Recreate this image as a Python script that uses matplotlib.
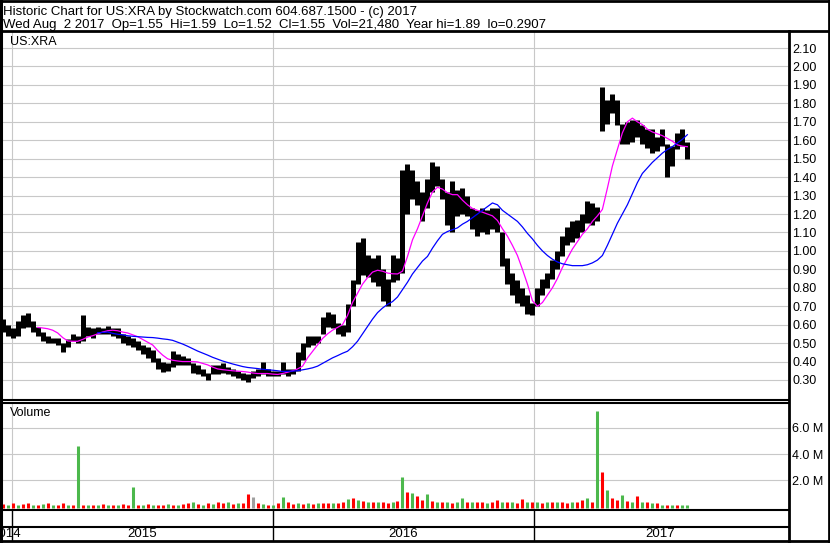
import matplotlib.pyplot as plt
from matplotlib.lines import Line2D
import numpy as np
import pandas as pd

plt.rcParams['font.family'] = ['Liberation Sans', 'DejaVu Sans']

W, H = 830, 543
nan = np.nan

# weekly bars
weeks = pd.date_range('2014-12-19', periods=138, freq='7D')

high = [0.63, 0.60, 0.58, 0.62, 0.65, 0.665, 0.62, 0.59, 0.56, 0.54,
        0.53, 0.53, 0.50, 0.52, 0.55, 0.54, 0.655, 0.59, 0.58, 0.59,
        0.58, 0.595, 0.58, 0.58, 0.55, 0.54, 0.53, 0.51, 0.49, 0.48,
        0.46, 0.42, 0.40, 0.39, 0.455, 0.44, 0.43, 0.42, 0.39, 0.38,
        0.36, 0.34, 0.38, 0.38, 0.39, 0.37, 0.36, 0.35, 0.34, 0.33,
        0.35, 0.36, 0.40, 0.36, 0.35, 0.35, 0.40, 0.36, 0.36, 0.45,
        0.50, 0.54, 0.54, 0.54, 0.64, 0.67, 0.66, 0.61, 0.60, 0.71,
        0.84, 1.05, 1.07, 0.98, 0.96, 0.98, 0.90, 0.85, 0.98, 0.96,
        1.44, 1.47, 1.44, 1.38, 1.32, 1.39, 1.48, 1.46, 1.39, 1.32,
        1.38, 1.33, 1.34, 1.30, 1.23, 1.22, 1.23, 1.22, 1.23, 1.23,
        1.10, 0.96, 0.88, 0.84, 0.80, 0.76, 0.72, 0.80, 0.85, 0.88,
        0.95, 1.00, 1.08, 1.13, 1.16, 1.17, 1.20, 1.27, 1.26, 1.24,
        1.89, 1.82, 1.85, 1.82, 1.69, 1.70, 1.71, 1.71, 1.68, 1.66,
        1.66, 1.62, 1.66, 1.58, 1.57, 1.64, 1.66, 1.59]

low = [0.56, 0.54, 0.53, 0.54, 0.58, 0.59, 0.56, 0.54, 0.51, 0.50,
       0.50, 0.49, 0.45, 0.48, 0.51, 0.50, 0.51, 0.54, 0.53, 0.55,
       0.55, 0.55, 0.54, 0.53, 0.50, 0.49, 0.48, 0.46, 0.44, 0.42,
       0.40, 0.36, 0.345, 0.35, 0.37, 0.38, 0.38, 0.38, 0.34, 0.33,
       0.32, 0.30, 0.33, 0.33, 0.34, 0.33, 0.32, 0.31, 0.30, 0.29,
       0.31, 0.32, 0.33, 0.32, 0.32, 0.32, 0.33, 0.32, 0.33, 0.35,
       0.41, 0.48, 0.49, 0.50, 0.55, 0.59, 0.58, 0.55, 0.54, 0.56,
       0.70, 0.82, 0.87, 0.86, 0.83, 0.81, 0.73, 0.70, 0.83, 0.84,
       0.88, 1.20, 1.28, 1.25, 1.16, 1.23, 1.32, 1.35, 1.28, 1.14,
       1.10, 1.19, 1.20, 1.19, 1.12, 1.08, 1.10, 1.09, 1.12, 1.10,
       0.92, 0.82, 0.76, 0.72, 0.70, 0.66, 0.65, 0.70, 0.76, 0.80,
       0.85, 0.90, 0.97, 1.03, 1.05, 1.07, 1.10, 1.15, 1.14, 1.16,
       1.65, 1.69, 1.75, 1.68, 1.58, 1.58, 1.59, 1.62, 1.58, 1.56,
       1.53, 1.54, 1.57, 1.40, 1.46, 1.55, 1.57, 1.50]

ma_fast = [nan] * 7 + [
    0.585, 0.582, 0.578,
    0.57, 0.555, 0.53, 0.512, 0.51, 0.51, 0.52, 0.533, 0.54, 0.55,
    0.56, 0.567, 0.57, 0.567, 0.56, 0.555, 0.545, 0.535, 0.52, 0.505,
    0.49, 0.46, 0.435, 0.415, 0.407, 0.403, 0.40, 0.40, 0.40, 0.398,
    0.39, 0.382, 0.37, 0.36, 0.356, 0.353, 0.35, 0.348, 0.346, 0.343,
    0.338, 0.335, 0.335, 0.335, 0.332, 0.33, 0.335, 0.342, 0.35, 0.36,
    0.375, 0.42, 0.455, 0.49, 0.525, 0.55, 0.57, 0.585, 0.60, 0.65,
    0.72, 0.77, 0.82, 0.855, 0.885, 0.895, 0.89, 0.88, 0.876, 0.875,
    0.89, 0.97, 1.06, 1.12, 1.19, 1.26, 1.32, 1.345, 1.335, 1.315,
    1.305, 1.305, 1.275, 1.25, 1.23, 1.22, 1.21, 1.20, 1.19, 1.165,
    1.12, 1.08, 1.03, 0.975, 0.90, 0.82, 0.73, 0.70, 0.72, 0.76,
    0.80, 0.85, 0.91, 0.96, 1.01, 1.05, 1.09, 1.12, 1.16, 1.19,
    1.225, 1.34, 1.46, 1.55, 1.64, 1.70, 1.72, 1.70, 1.685, 1.66,
    1.645, 1.635, 1.625, 1.61, 1.595, 1.575, 1.568, 1.565]

ma_slow = [nan] * 19 + [
    0.556,
    0.558, 0.56, 0.553, 0.548, 0.545, 0.54, 0.537, 0.535, 0.533, 0.531,
    0.53, 0.527, 0.523, 0.52, 0.515, 0.505, 0.495, 0.483, 0.47, 0.457,
    0.446, 0.435, 0.423, 0.413, 0.403, 0.395, 0.387, 0.38, 0.373, 0.368,
    0.365, 0.362, 0.358, 0.356, 0.353, 0.35, 0.346, 0.347, 0.348, 0.35,
    0.355, 0.36, 0.366, 0.375, 0.39, 0.405, 0.42, 0.432, 0.445, 0.456,
    0.48, 0.51, 0.55, 0.59, 0.63, 0.665, 0.69, 0.71, 0.725, 0.75,
    0.79, 0.83, 0.875, 0.91, 0.945, 0.97, 1.015, 1.055, 1.09, 1.105,
    1.115, 1.125, 1.145, 1.16, 1.18, 1.20, 1.22, 1.24, 1.26, 1.25,
    1.22, 1.20, 1.18, 1.16, 1.13, 1.095, 1.065, 1.03, 1.00, 0.975,
    0.955, 0.94, 0.93, 0.925, 0.92, 0.92, 0.92, 0.925, 0.935, 0.95,
    0.975, 1.03, 1.09, 1.15, 1.20, 1.25, 1.31, 1.37, 1.42, 1.45,
    1.48, 1.505, 1.53, 1.55, 1.565, 1.585, 1.605, 1.63]

# volume in millions, g = up, r = down, k = unchanged
volume = [0.15, 0.12, 0.2, 0.1, 0.15, 0.25, 0.12, 0.1, 0.15, 0.2,
          0.1, 0.12, 0.2, 0.08, 0.1, 4.6, 0.1, 0.12, 0.08, 0.1,
          0.15, 0.1, 0.12, 0.1, 0.15, 0.1, 1.5, 0.12, 0.1, 0.15,
          0.1, 0.12, 0.1, 0.15, 0.12, 0.1, 0.15, 0.2, 0.35, 0.15,
          0.12, 0.2, 0.15, 0.3, 0.2, 0.35, 0.15, 0.2, 0.25, 0.9,
          0.7, 0.2, 0.15, 0.1, 0.12, 0.2, 0.7, 0.3, 0.15, 0.2,
          0.15, 0.2, 0.15, 0.2, 0.25, 0.2, 0.25, 0.2, 0.3, 0.55,
          0.6, 0.45, 0.4, 0.3, 0.35, 0.3, 0.3, 0.25, 0.35, 0.4,
          2.2, 1.1, 1.0, 0.8, 0.5, 0.9, 0.4, 0.3, 0.35, 0.3,
          0.25, 0.3, 0.6, 0.3, 0.35, 0.3, 0.3, 0.25, 0.3, 0.5,
          0.3, 0.35, 0.3, 0.25, 0.55, 0.3, 0.35, 0.3, 0.25, 0.3,
          0.3, 0.3, 0.35, 0.25, 0.3, 0.35, 0.45, 0.6, 0.3, 7.3,
          2.6, 1.2, 0.6, 0.5, 0.85, 0.4, 0.3, 0.75, 0.3, 0.3,
          0.25, 0.2, 0.12, 0.08, 0.06, 0.06, 0.1, 0.06]
vol_dir = ("rgrgrrgrgr" "grrgrgrgrg" "rgrgrrgrgr" "grrgrgrrgr" "grgrrgrgrr"
           "krgrgrgrrg" "rgrgrrgrrg" "rgrgrgrrgr" "grgrrgrgrg" "rggrgrrgrr"
           "grgrrgrgrg" "rgrrgrrgrg" "rgrrgrgrgr" "grgrgrgg")

price_ticks = [0.3, 0.4, 0.5, 0.6, 0.7, 0.8, 0.9, 1.0, 1.1, 1.2,
               1.3, 1.4, 1.5, 1.6, 1.7, 1.8, 1.9, 2.0, 2.1]
vol_ticks = [2, 4, 6]
vol_tick_labels = ['2.0 M', '4.0 M', '6.0 M']
year_starts = pd.to_datetime(['2015-01-01', '2016-01-01', '2017-01-01'])
year_labels = ['2014', '2015', '2016', '2017']
year_label_dates = pd.to_datetime(['2014-12-24', '2015-07-02', '2016-07-02', '2017-06-27'])

title1 = 'Historic Chart for US:XRA by Stockwatch.com 604.687.1500 - (c) 2017'
title2 = ('Wed Aug  2 2017  Op=1.55  Hi=1.59  Lo=1.52  Cl=1.55  '
          'Vol=21,480  Year hi=1.89  lo=0.2907')

xmin, xmax = pd.Timestamp('2014-12-18'), pd.Timestamp('2017-12-23')
grid_c = '#c8c8c8'
fs = 9.0


def box(x0, y0, x1, y1):
    # pixel box (top-left origin) -> figure fraction rect
    return [x0 / W, 1 - y1 / H, (x1 - x0) / W, (y1 - y0) / H]


def hline(y, x0, x1, lw=1.5):
    fig.add_artist(Line2D([x0 / W, x1 / W], [1 - y / H, 1 - y / H],
                          transform=fig.transFigure, color='black', lw=lw))


def vline(x, y0, y1, lw=1.5):
    fig.add_artist(Line2D([x / W, x / W], [1 - y0 / H, 1 - y1 / H],
                          transform=fig.transFigure, color='black', lw=lw))


fig = plt.figure(figsize=(W / 100, H / 100), dpi=100)

ax = fig.add_axes(box(2, 32, 788, 400))
ax.vlines(weeks, low, high, color='black', lw=3.6)
ax.plot(weeks, ma_fast, color='#ff00ff', lw=0.9)
ax.plot(weeks, ma_slow, color='#0000ff', lw=0.9)
ax.set_xlim(xmin, xmax)
ax.set_ylim(0.1915, 2.187)
ax.set_yticks(price_ticks)
ax.set_yticklabels(['%.2f' % t for t in price_ticks])
ax.set_xticks(year_starts)
ax.set_xticklabels([])
ax.yaxis.tick_right()
ax.tick_params(length=0, labelsize=fs, pad=3)
ax.grid(color=grid_c, lw=0.8)
ax.set_axisbelow(True)
for s in ax.spines.values():
    s.set_visible(False)
ax.text(8 / 786, 1 - 10 / 368, 'US:XRA', transform=ax.transAxes,
        fontsize=fs, va='center', ha='left')

axv = fig.add_axes(box(2, 403, 788, 510))
vcol = {'g': '#4cb84c', 'r': '#ff0000', 'k': '#a0a0a0'}
axv.vlines(weeks, -0.15, volume, colors=[vcol[c] for c in vol_dir], lw=2.2)
axv.set_xlim(xmin, xmax)
axv.set_ylim(-0.3, 7.92)
axv.set_yticks(vol_ticks)
axv.set_yticklabels(vol_tick_labels)
axv.set_xticks(year_starts)
axv.set_xticklabels([])
axv.yaxis.tick_right()
axv.tick_params(length=0, labelsize=fs, pad=3)
axv.grid(color=grid_c, lw=0.8)
axv.set_axisbelow(True)
for s in axv.spines.values():
    s.set_visible(False)
axv.text(8 / 786, 1 - 10 / 107, 'Volume', transform=axv.transAxes,
         fontsize=fs, va='center', ha='left')

axd = fig.add_axes(box(2, 510, 788, 541))
axd.set_xlim(xmin, xmax)
axd.set_ylim(0, 1)
axd.axis('off')
for d in year_starts:
    axd.axvline(d, color='black', lw=1.0)
for d, lab in zip(year_label_dates, year_labels):
    axd.text(d, 0.24, lab, ha='center', va='center', fontsize=fs + 0.5,
             clip_on=False)

# frame
hline(1, 0, 830, lw=2)
hline(31, 0, 830, lw=2)
hline(400, 0, 789)
hline(403, 0, 789)
hline(510, 0, 789)
hline(527, 0, 789)
hline(541, 0, 830, lw=2)
vline(1, 0, 543, lw=2.2)
vline(828.5, 0, 543, lw=2)
vline(789, 31, 543, lw=2)

fig.text(3 / W, 1 - 12 / H, title1, fontsize=9.5, va='center')
fig.text(3 / W, 1 - 25 / H, title2, fontsize=9.5, va='center')

fig.savefig('out.png', dpi=100)
